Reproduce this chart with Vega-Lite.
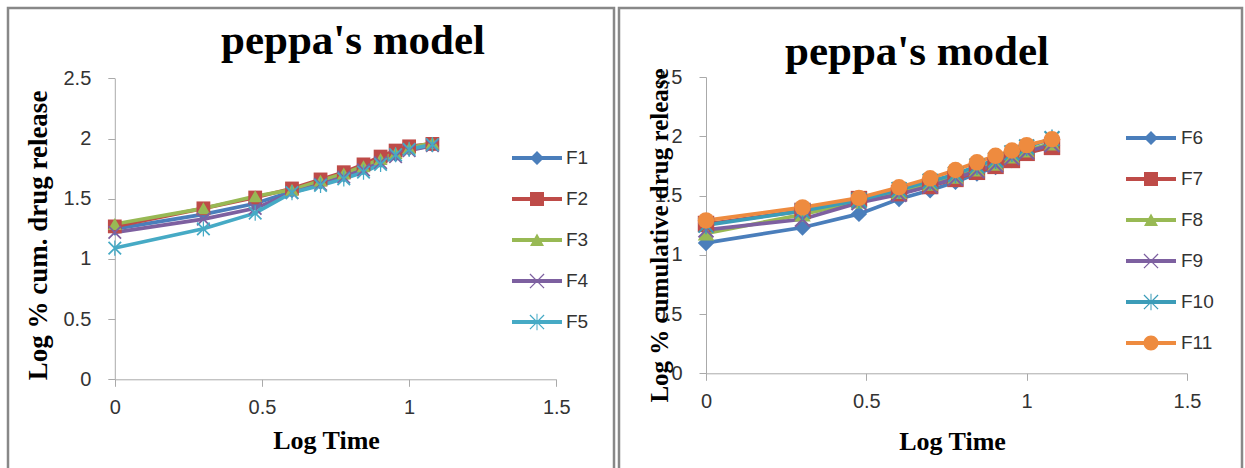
{
  "$schema": "https://vega.github.io/schema/vega-lite/v6.json",
  "padding": {"left": 6, "top": 6, "right": 1, "bottom": 0},
  "spacing": 1,
  "background": "white",
  "datasets": {
    "left": [
      {"s": "F1", "t": 0, "r": 1.25}, {"s": "F1", "t": 0.301, "r": 1.37}, {"s": "F1", "t": 0.477, "r": 1.46}, {"s": "F1", "t": 0.602, "r": 1.56}, {"s": "F1", "t": 0.699, "r": 1.63}, {"s": "F1", "t": 0.778, "r": 1.69}, {"s": "F1", "t": 0.845, "r": 1.75}, {"s": "F1", "t": 0.903, "r": 1.81}, {"s": "F1", "t": 0.954, "r": 1.86}, {"s": "F1", "t": 1.0, "r": 1.91}, {"s": "F1", "t": 1.079, "r": 1.94},
      {"s": "F2", "t": 0, "r": 1.27}, {"s": "F2", "t": 0.301, "r": 1.42}, {"s": "F2", "t": 0.477, "r": 1.51}, {"s": "F2", "t": 0.602, "r": 1.585}, {"s": "F2", "t": 0.699, "r": 1.66}, {"s": "F2", "t": 0.778, "r": 1.72}, {"s": "F2", "t": 0.845, "r": 1.785}, {"s": "F2", "t": 0.903, "r": 1.85}, {"s": "F2", "t": 0.954, "r": 1.9}, {"s": "F2", "t": 1.0, "r": 1.935}, {"s": "F2", "t": 1.079, "r": 1.955},
      {"s": "F3", "t": 0, "r": 1.29}, {"s": "F3", "t": 0.301, "r": 1.42}, {"s": "F3", "t": 0.477, "r": 1.52}, {"s": "F3", "t": 0.602, "r": 1.575}, {"s": "F3", "t": 0.699, "r": 1.65}, {"s": "F3", "t": 0.778, "r": 1.71}, {"s": "F3", "t": 0.845, "r": 1.77}, {"s": "F3", "t": 0.903, "r": 1.83}, {"s": "F3", "t": 0.954, "r": 1.88}, {"s": "F3", "t": 1.0, "r": 1.92}, {"s": "F3", "t": 1.079, "r": 1.965},
      {"s": "F4", "t": 0, "r": 1.22}, {"s": "F4", "t": 0.301, "r": 1.33}, {"s": "F4", "t": 0.477, "r": 1.42}, {"s": "F4", "t": 0.602, "r": 1.55}, {"s": "F4", "t": 0.699, "r": 1.62}, {"s": "F4", "t": 0.778, "r": 1.68}, {"s": "F4", "t": 0.845, "r": 1.74}, {"s": "F4", "t": 0.903, "r": 1.8}, {"s": "F4", "t": 0.954, "r": 1.85}, {"s": "F4", "t": 1.0, "r": 1.9}, {"s": "F4", "t": 1.079, "r": 1.94},
      {"s": "F5", "t": 0, "r": 1.09}, {"s": "F5", "t": 0.301, "r": 1.25}, {"s": "F5", "t": 0.477, "r": 1.38}, {"s": "F5", "t": 0.602, "r": 1.55}, {"s": "F5", "t": 0.699, "r": 1.61}, {"s": "F5", "t": 0.778, "r": 1.665}, {"s": "F5", "t": 0.845, "r": 1.72}, {"s": "F5", "t": 0.903, "r": 1.785}, {"s": "F5", "t": 0.954, "r": 1.865}, {"s": "F5", "t": 1.0, "r": 1.91}, {"s": "F5", "t": 1.079, "r": 1.95}
    ],
    "right": [
      {"s": "F6", "t": 0, "r": 1.1}, {"s": "F6", "t": 0.301, "r": 1.23}, {"s": "F6", "t": 0.477, "r": 1.345}, {"s": "F6", "t": 0.602, "r": 1.47}, {"s": "F6", "t": 0.699, "r": 1.545}, {"s": "F6", "t": 0.778, "r": 1.615}, {"s": "F6", "t": 0.845, "r": 1.685}, {"s": "F6", "t": 0.903, "r": 1.74}, {"s": "F6", "t": 0.954, "r": 1.8}, {"s": "F6", "t": 1.0, "r": 1.86}, {"s": "F6", "t": 1.079, "r": 1.92},
      {"s": "F7", "t": 0, "r": 1.26}, {"s": "F7", "t": 0.301, "r": 1.37}, {"s": "F7", "t": 0.477, "r": 1.47}, {"s": "F7", "t": 0.602, "r": 1.52}, {"s": "F7", "t": 0.699, "r": 1.58}, {"s": "F7", "t": 0.778, "r": 1.64}, {"s": "F7", "t": 0.845, "r": 1.7}, {"s": "F7", "t": 0.903, "r": 1.75}, {"s": "F7", "t": 0.954, "r": 1.8}, {"s": "F7", "t": 1.0, "r": 1.86}, {"s": "F7", "t": 1.079, "r": 1.91},
      {"s": "F8", "t": 0, "r": 1.18}, {"s": "F8", "t": 0.301, "r": 1.34}, {"s": "F8", "t": 0.477, "r": 1.45}, {"s": "F8", "t": 0.602, "r": 1.53}, {"s": "F8", "t": 0.699, "r": 1.6}, {"s": "F8", "t": 0.778, "r": 1.66}, {"s": "F8", "t": 0.845, "r": 1.72}, {"s": "F8", "t": 0.903, "r": 1.77}, {"s": "F8", "t": 0.954, "r": 1.83}, {"s": "F8", "t": 1.0, "r": 1.88}, {"s": "F8", "t": 1.079, "r": 1.94},
      {"s": "F9", "t": 0, "r": 1.21}, {"s": "F9", "t": 0.301, "r": 1.3}, {"s": "F9", "t": 0.477, "r": 1.44}, {"s": "F9", "t": 0.602, "r": 1.51}, {"s": "F9", "t": 0.699, "r": 1.58}, {"s": "F9", "t": 0.778, "r": 1.645}, {"s": "F9", "t": 0.845, "r": 1.71}, {"s": "F9", "t": 0.903, "r": 1.76}, {"s": "F9", "t": 0.954, "r": 1.82}, {"s": "F9", "t": 1.0, "r": 1.87}, {"s": "F9", "t": 1.079, "r": 1.93},
      {"s": "F10", "t": 0, "r": 1.25}, {"s": "F10", "t": 0.301, "r": 1.37}, {"s": "F10", "t": 0.477, "r": 1.46}, {"s": "F10", "t": 0.602, "r": 1.55}, {"s": "F10", "t": 0.699, "r": 1.62}, {"s": "F10", "t": 0.778, "r": 1.68}, {"s": "F10", "t": 0.845, "r": 1.75}, {"s": "F10", "t": 0.903, "r": 1.8}, {"s": "F10", "t": 0.954, "r": 1.86}, {"s": "F10", "t": 1.0, "r": 1.91}, {"s": "F10", "t": 1.079, "r": 1.98},
      {"s": "F11", "t": 0, "r": 1.29}, {"s": "F11", "t": 0.301, "r": 1.4}, {"s": "F11", "t": 0.477, "r": 1.48}, {"s": "F11", "t": 0.602, "r": 1.57}, {"s": "F11", "t": 0.699, "r": 1.645}, {"s": "F11", "t": 0.778, "r": 1.715}, {"s": "F11", "t": 0.845, "r": 1.78}, {"s": "F11", "t": 0.903, "r": 1.835}, {"s": "F11", "t": 0.954, "r": 1.88}, {"s": "F11", "t": 1.0, "r": 1.925}, {"s": "F11", "t": 1.079, "r": 1.975}
    ]
  },
  "hconcat": [
    {
      "width": 606,
      "height": 460,
      "view": {"strokeDash": [1066, 606, 500]},
      "title": {"text": "peppa's model", "orient": "none", "anchor": "middle", "align": "center", "dx": 345, "dy": 46, "baseline": "alphabetic"},
      "data": {"name": "left"},
      "encoding": {
        "x": {"field": "t", "type": "quantitative",
              "scale": {"domain": [0, 1.5], "range": [106.8, 548.3], "nice": false, "zero": false},
              "axis": {"values": [0, 0.5, 1, 1.5], "offset": -88.7, "title": "Log Time", "titleX": 318, "titleY": 60.7}},
        "y": {"field": "r", "type": "quantitative",
              "scale": {"domain": [0, 2.5], "range": [371.3, 70.3], "nice": false, "zero": false},
              "axis": {"values": [0, 0.5, 1, 1.5, 2, 2.5], "offset": -106.8, "title": "Log % cum. drug release", "titleFontSize": 27, "titleX": -76.3, "titleY": 227}}
      },
      "layer": [
        {
          "mark": {"type": "line", "strokeWidth": 3.7},
          "encoding": {
            "stroke": {"field": "s", "type": "nominal",
                       "scale": {"domain": ["F1", "F2", "F3", "F4", "F5"], "range": ["#4A7EBB", "#BE4B48", "#98B954", "#7D60A0", "#46AAC5"]},
                       "legend": null}
          }
        },
        {
          "mark": {"type": "point", "filled": true, "opacity": 1, "size": 190},
          "encoding": {
            "shape": {"field": "s", "type": "nominal",
                      "scale": {"domain": ["F1", "F2", "F3", "F4", "F5"],
                                "range": ["diamond", "square", "triangle-up",
                                          "M-1,-0.82L-0.82,-1L1,0.82L0.82,1Z M-1,0.82L0.82,-1L1,-0.82L-0.82,1Z",
                                          "M-1,-0.82L-0.82,-1L1,0.82L0.82,1Z M-1,0.82L0.82,-1L1,-0.82L-0.82,1Z M-0.09,-1.1H0.09V1.1H-0.09Z"]},
                      "legend": null},
            "fill": {"field": "s", "type": "nominal",
                     "scale": {"domain": ["F1", "F2", "F3", "F4", "F5"], "range": ["#4A7EBB", "#BE4B48", "#98B954", "#7D60A0", "#46AAC5"]},
                     "legend": null}
          }
        },
        {
          "transform": [{"filter": "false"}],
          "mark": {"type": "point", "filled": true, "opacity": 1},
          "encoding": {
            "shape": {"field": "s", "type": "nominal",
                      "scale": {"domain": ["F1", "F2", "F3", "F4", "F5"],
                                "range": ["M-2,-0.16H2V0.16H-2Z M0,-0.56L0.56,0L0,0.56L-0.56,0Z",
                                          "M-2,-0.16H2V0.16H-2Z M-0.56,-0.56H0.56V0.56H-0.56Z",
                                          "M-2,-0.16H2V0.16H-2Z M0,-0.52L0.56,0.48H-0.56Z",
                                          "M-2,-0.16H2V0.16H-2Z M-0.6,-0.53L-0.53,-0.6L0.6,0.53L0.53,0.6Z M-0.6,0.53L0.53,-0.6L0.6,-0.53L-0.53,0.6Z",
                                          "M-2,-0.16H2V0.16H-2Z M-0.6,-0.53L-0.53,-0.6L0.6,0.53L0.53,0.6Z M-0.6,0.53L0.53,-0.6L0.6,-0.53L-0.53,0.6Z M-0.04,-0.66H0.04V0.66H-0.04Z"]},
                      "legend": {
                        "orient": "none", "legendX": 516.5, "legendY": 137.5, "title": null,
                        "symbolSize": 625, "symbolStrokeWidth": 0, "symbolOpacity": 1,
                        "labelOffset": 16.5, "rowPadding": 18, "padding": 0}},
            "color": {"field": "s", "type": "nominal",
                      "scale": {"domain": ["F1", "F2", "F3", "F4", "F5"], "range": ["#4A7EBB", "#BE4B48", "#98B954", "#7D60A0", "#46AAC5"]},
                      "legend": {
                        "orient": "none", "legendX": 516.5, "legendY": 137.5, "title": null,
                        "symbolSize": 625, "symbolStrokeWidth": 0, "symbolOpacity": 1,
                        "labelOffset": 16.5, "rowPadding": 18, "padding": 0}}
          }
        }
      ],
      "resolve": {"scale": {"shape": "independent", "color": "independent"}}
    },
    {
      "width": 623,
      "height": 460,
      "view": {"strokeDash": [1083, 623, 500]},
      "title": {"text": "peppa's model", "orient": "none", "anchor": "middle", "align": "center", "dx": 298, "dy": 57, "baseline": "alphabetic"},
      "data": {"name": "right"},
      "encoding": {
        "x": {"field": "t", "type": "quantitative",
              "scale": {"domain": [0, 1.5], "range": [87, 568], "nice": false, "zero": false},
              "axis": {"values": [0, 0.5, 1, 1.5], "offset": -94.7, "title": "Log Time", "titleX": 333, "titleY": 67.7}},
        "y": {"field": "r", "type": "quantitative",
              "scale": {"domain": [0, 2.5], "range": [365.3, 69], "nice": false, "zero": false},
              "axis": {"values": [0, 0.5, 1, 1.5, 2, 2.5], "offset": -87, "title": "Log % cumulative drug release", "titleFontSize": 25, "titleX": -47, "titleY": 227}}
      },
      "layer": [
        {
          "mark": {"type": "line", "strokeWidth": 3.7},
          "encoding": {
            "stroke": {"field": "s", "type": "nominal",
                       "scale": {"domain": ["F6", "F7", "F8", "F9", "F10", "F11"], "range": ["#4A7EBB", "#BE4B48", "#98B954", "#7D60A0", "#3C9CB8", "#EE8B3F"]},
                       "legend": null}
          }
        },
        {
          "mark": {"type": "point", "filled": true, "opacity": 1, "size": 270},
          "encoding": {
            "shape": {"field": "s", "type": "nominal",
                      "scale": {"domain": ["F6", "F7", "F8", "F9", "F10", "F11"],
                                "range": ["diamond", "square", "triangle-up",
                                          "M-1,-0.82L-0.82,-1L1,0.82L0.82,1Z M-1,0.82L0.82,-1L1,-0.82L-0.82,1Z",
                                          "M-1,-0.82L-0.82,-1L1,0.82L0.82,1Z M-1,0.82L0.82,-1L1,-0.82L-0.82,1Z M-0.09,-1.1H0.09V1.1H-0.09Z",
                                          "circle"]},
                      "legend": null},
            "fill": {"field": "s", "type": "nominal",
                     "scale": {"domain": ["F6", "F7", "F8", "F9", "F10", "F11"], "range": ["#4A7EBB", "#BE4B48", "#98B954", "#7D60A0", "#3C9CB8", "#EE8B3F"]},
                     "legend": null}
          }
        },
        {
          "transform": [{"filter": "false"}],
          "mark": {"type": "point", "filled": true, "opacity": 1},
          "encoding": {
            "shape": {"field": "s", "type": "nominal",
                      "scale": {"domain": ["F6", "F7", "F8", "F9", "F10", "F11"],
                                "range": ["M-2,-0.16H2V0.16H-2Z M0,-0.56L0.56,0L0,0.56L-0.56,0Z",
                                          "M-2,-0.16H2V0.16H-2Z M-0.56,-0.56H0.56V0.56H-0.56Z",
                                          "M-2,-0.16H2V0.16H-2Z M0,-0.52L0.56,0.48H-0.56Z",
                                          "M-2,-0.16H2V0.16H-2Z M-0.6,-0.53L-0.53,-0.6L0.6,0.53L0.53,0.6Z M-0.6,0.53L0.53,-0.6L0.6,-0.53L-0.53,0.6Z",
                                          "M-2,-0.16H2V0.16H-2Z M-0.6,-0.53L-0.53,-0.6L0.6,0.53L0.53,0.6Z M-0.6,0.53L0.53,-0.6L0.6,-0.53L-0.53,0.6Z M-0.04,-0.66H0.04V0.66H-0.04Z",
                                          "M-2,-0.16H2V0.16H-2Z M-0.6,0A0.6,0.6,0,1,1,0.6,0A0.6,0.6,0,1,1,-0.6,0Z"]},
                      "legend": {
                        "orient": "none", "legendX": 519.5, "legendY": 117.5, "title": null,
                        "symbolSize": 625, "symbolStrokeWidth": 0, "symbolOpacity": 1,
                        "labelOffset": 17.5, "rowPadding": 18, "padding": 0}},
            "color": {"field": "s", "type": "nominal",
                      "scale": {"domain": ["F6", "F7", "F8", "F9", "F10", "F11"], "range": ["#4A7EBB", "#BE4B48", "#98B954", "#7D60A0", "#3C9CB8", "#EE8B3F"]},
                      "legend": {
                        "orient": "none", "legendX": 519.5, "legendY": 117.5, "title": null,
                        "symbolSize": 625, "symbolStrokeWidth": 0, "symbolOpacity": 1,
                        "labelOffset": 17.5, "rowPadding": 18, "padding": 0}}
          }
        }
      ],
      "resolve": {"scale": {"shape": "independent", "color": "independent"}}
    }
  ],
  "resolve": {"scale": {"color": "independent", "fill": "independent", "stroke": "independent", "shape": "independent", "x": "independent", "y": "independent"}, "legend": {"color": "independent", "fill": "independent", "stroke": "independent", "shape": "independent"}},
  "config": {
    "view": {"stroke": "#888888", "strokeWidth": 2.5},
    "title": {"font": "Liberation Serif", "fontSize": 43, "fontWeight": "bold", "color": "#000000", "offset": 0},
    "axis": {
      "grid": false,
      "domainColor": "#aaaaaa", "domainWidth": 1,
      "tickColor": "#aaaaaa", "tickWidth": 1, "tickSize": 7,
      "labelFont": "Liberation Sans", "labelFontSize": 20, "labelColor": "#333333",
      "labelFlush": false, "labelOverlap": false,
      "format": "~g",
      "titleFont": "Liberation Serif", "titleFontSize": 26, "titleFontWeight": "bold", "titleColor": "#000000",
      "titleAlign": "center", "titleBaseline": "middle"
    },
    "axisX": {"labelPadding": 11},
    "axisY": {"labelPadding": 17, "titleAngle": -90},
    "legend": {"labelFont": "Liberation Sans", "labelFontSize": 19, "labelColor": "#333333"}
  }
}
